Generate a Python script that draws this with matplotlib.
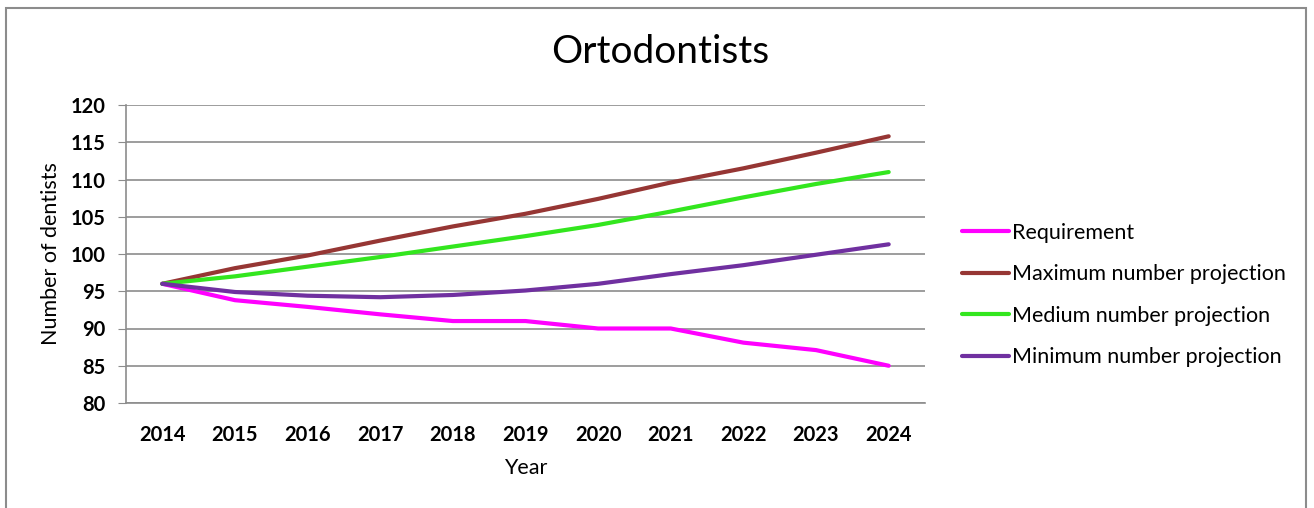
import matplotlib
matplotlib.use("Agg")
import matplotlib.pyplot as plt
from matplotlib.patches import Rectangle

years = ["2014", "2015", "2016", "2017", "2018", "2019", "2020", "2021", "2022", "2023", "2024"]
requirement = [96, 93.8, 92.9, 91.9, 91.0, 91.0, 90.0, 90.0, 88.1, 87.1, 85.0]
max_proj = [96, 98.1, 99.8, 101.8, 103.7, 105.4, 107.4, 109.6, 111.5, 113.6, 115.8]
med_proj = [96, 97.0, 98.3, 99.6, 101.0, 102.4, 103.9, 105.7, 107.6, 109.4, 111.0]
min_proj = [96, 94.9, 94.4, 94.2, 94.5, 95.1, 96.0, 97.3, 98.5, 99.9, 101.3]

series = [
    ("Requirement", requirement, "#FF00FF"),
    ("Maximum number projection", max_proj, "#963634"),
    ("Medium number projection", med_proj, "#33E61E"),
    ("Minimum number projection", min_proj, "#7030A0"),
]

plt.rcParams["font.family"] = ["Lato", "DejaVu Sans"]

fig = plt.figure(figsize=(13.14, 5.08), dpi=100, facecolor="white")

# outer chart frame (bottom edge runs off the image)
fig.patches.append(Rectangle((6 / 1314, -0.05), 1300 / 1314, 1 - 8 / 508 + 0.05,
                             transform=fig.transFigure, fill=False,
                             edgecolor="#8c8c8c", linewidth=1.5))

ax = fig.add_axes([126 / 1314, 1 - 403 / 508, 799 / 1314, 298 / 508])
x = range(len(years))
for name, vals, col in series:
    ax.plot(x, vals, color=col, linewidth=3, label=name, solid_capstyle="round")

ax.set_xlim(-0.5, len(years) - 0.5)
ax.set_ylim(80, 120)
ax.set_yticks(range(80, 121, 5))
ax.set_xticks(list(x))
ax.set_xticklabels(years)
ax.grid(axis="y", color="#8c8c8c", linewidth=1.2)
ax.set_axisbelow(True)
for s in ["top", "right"]:
    ax.spines[s].set_visible(False)
ax.spines["left"].set_color("#8c8c8c")
ax.spines["bottom"].set_color("#8c8c8c")
ax.spines["left"].set_linewidth(1.2)
ax.spines["bottom"].set_linewidth(1.2)
ax.tick_params(axis="y", length=6, color="#8c8c8c", labelsize=14.5, pad=9)
ax.tick_params(axis="x", length=0, labelsize=14.5, pad=16)
for lab in ax.get_xticklabels() + ax.get_yticklabels():
    lab.set_fontweight("bold")

ax.set_xlabel("Year", fontsize=15.5, labelpad=9)
ax.set_ylabel("Number of dentists", fontsize=15.5, labelpad=7)
fig.text(660 / 1314, 1 - 52 / 508, "Ortodontists", fontsize=28,
         ha="center", va="center")

ax.legend(loc="center left", bbox_to_anchor=(953 / 1314, 1 - 295 / 508),
          bbox_transform=fig.transFigure, frameon=False, fontsize=15.5,
          handlelength=2.2, handletextpad=0.15, labelspacing=1.0,
          borderaxespad=0)

fig.savefig("out.png", dpi=100, facecolor="white")
